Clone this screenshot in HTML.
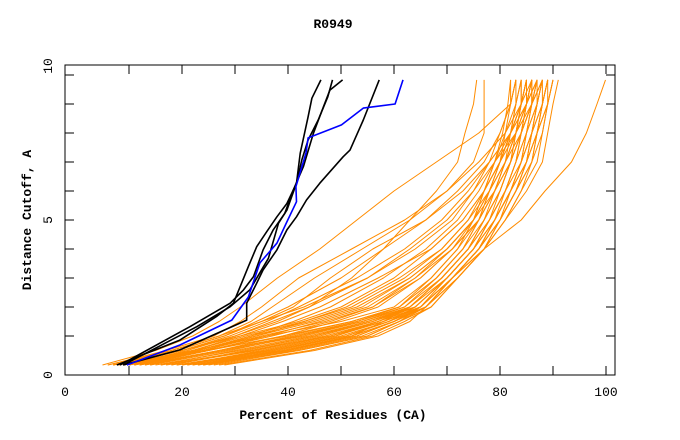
<!DOCTYPE html>
<html><head><meta charset="utf-8"><style>
html,body{margin:0;padding:0;background:#fff;}
svg{display:block;font-family:"Liberation Mono","DejaVu Sans Mono",monospace;}
</style></head><body>
<svg id="chart" width="680" height="440" viewBox="0 0 680 440" xmlns="http://www.w3.org/2000/svg">
<text x="333" y="28" text-anchor="middle" font-size="13" font-weight="bold">R0949</text>
<text x="333" y="419" text-anchor="middle" font-size="13" font-weight="bold">Percent of Residues (CA)</text>
<text transform="translate(31,220) rotate(-90)" text-anchor="middle" font-size="13" font-weight="bold">Distance Cutoff, A</text>
<g id="series"></g>
<g id="axes"></g>
<rect x="65" y="65" width="550" height="310" fill="none" stroke="#000" stroke-width="1"/>
</svg>
<script>
const levels = [0,0.5,1,1.5,2,3,4,5,6,7,8,9,9.83];
const xTicks = [0,20,40,60,80,100];
const yTicks = [0,5,10];
const orangeLines = [
[5,15,22,27,31,38,46,53,60,68,76,82,83],
[7,20,30,38,44,52,58,63,68,72,73.4,75,75.6],
[6,18,27,33,37,45,54,63,70,75,77,77,77],
[8,19,28,34,40,50,58,66,72,77,80,82,83],
[6,17,26,31,35,42,52,62,70,76,81,84,85],
[9,21,30,37,44,55,63,70,75,79,81,83,84],
[7,20,29,36,42,53,62,69,74,78,82,84,85],
[10,23,33,41,48,58,66,72,76,79,82,84,86],
[8,22,31,39,46,57,67,73,77,80,82,84,84],
[11,24,34,43,51,61,69,74,78,81,83,85,86],
[9,23,33,44,53,63,70,75,78,80,82,85,87],
[12,25,36,46,55,64,71,76,79,81,84,86,88],
[7,19,28,35,41,48,56,66,73,78,82,85,86],
[10,24,35,47,56,65,71,75,77,79,83,86,87],
[10,22,36,50,60,67,72,75,77,79,80.5,81.5,82],
[12,25,39,52,61,68,73,76,78,80,81,82,83],
[14,27,41,53,62,68,73,76,79,81,82,83,84],
[13,28,43,54,62,69,74,77,79,81,83,84,84],
[16,30,44,55,63,69,74,77,80,82,83,84,85],
[15,31,45,56,63,70,75,78,80,82,84,85,85],
[18,33,46,56,64,70,75,78,81,83,84,85,86],
[17,34,47,57,64,70,75,79,81,83,85,86,86],
[20,35,48,58,65,71,76,79,82,84,85,86,87],
[19,36,49,58,65,71,76,79,82,84,86,87,87],
[21,37,50,59,65,71,76,80,82,85,86,87,88],
[22,38,51,59,66,71,76,80,83,85,86,88,88],
[23,39,52,60,66,71,77,80,83,85,87,88,89],
[24,40,53,60,66,72,77,80,83,86,87,88,89],
[25,41,54,61,66,72,77,81,84,86,88,89,90],
[26,42,55,61,67,72,77,81,84,87,88,89,90],
[27,44,56,62,67,72,77,81,85,88,89,90,91],
[11,24,40,52,61,67,72,76,78,80,82,83,83],
[14,29,42,54,63,69,74,77,80,82,83,84,85],
[18,32,45,55,64,70,75,78,81,83,84,86,86],
[21,36,49,57,65,71,76,79,82,84,85,87,88],
[23,40,52,60,66,71,76,80,83,86,87,89,90],
[8,20,31,42,50,60,67,73,77,80,83,85,86],
[9,22,32,43,52,62,69,74,77,80,82,84,85],
[11,25,37,48,56,64,70,75,78,81,83,85,87],
[13,27,39,49,57,65,71,76,79,82,84,86,87],
[10,23,34,45,54,63,70,75,79,82,84,86,88],
[7,18,27,35,43,55,64,71,75,78,80,82,82],
[16,33,48,57,63,69,74,78,81,84,86,87,88],
[19,37,51,59,64,70,75,79,82,84,86,88,89],
[22,40,53,60,65,70,75,79,82,85,87,89,89],
[24,42,55,61,65,71,76,80,83,85,87,88,89],
[20,39,52,58,63,69,74,78,81,83,85,87,88],
[12,27,42,53,61,68,73,77,80,82,84,85,86],
[28,45,57,63,66,71,77,84,88.5,93.5,96.3,98.3,99.9]
];
const blackX1 = [7.7,19.6,26.5,29.7,32.5,34.1,36.0,37.9,39.8,41.6,42.3,43.8,44.5,46.2];
const blackY1 = [0,0.86,1.67,2.13,3.39,4.08,4.6,5.11,5.57,6.27,7.3,8.56,9.2,9.83];
const blackX2 = [8.9,22.8,29.1,32.8,36.3,38.2,39.8,41.6,42.6,43.8,45.7,47.5,48.4];
const blackY2 = [0,1.32,2.01,2.59,3.68,4.89,5.34,6.27,7.07,7.76,8.45,9.25,9.83];
const blackX3 = [8.3,21.5,29.1,31.6,33.5,35.3,37.2,39.4,41.0,42.9,44.8,46.7,47.9,50.3];
const blackY3 = [0,1.32,2.13,2.59,3.05,3.97,4.66,5.23,6.03,6.84,7.99,8.91,9.48,9.83];
const blackX4 = [8.9,19.6,32.2,32.2,34.1,35.3,37.9,39.8,41.6,43.5,46.0,50.4,51.7,54.2,57.2];
const blackY4 = [0,0.52,1.55,2.13,2.82,3.28,3.97,4.66,5.11,5.69,6.27,7.18,7.41,8.45,9.83];
const blueX = [9.6,19.6,29.4,32.5,34.7,37.9,39.7,41.6,41.5,43.4,43.8,50.1,54.2,60.2,61.7];
const blueY = [0,0.69,1.55,2.34,3.52,4.2,4.9,5.63,6.15,7.31,7.83,8.28,8.86,9.0,9.83];

const NS = "http://www.w3.org/2000/svg";
function sx(v){ return 76 + v*5.3; }
function sy(v){ return 365 - v*29; }
const series = document.getElementById('series');
const axes = document.getElementById('axes');
function poly(xs, ys, color, w, name){
  const p = document.createElementNS(NS,'polyline');
  p.setAttribute('points', xs.map((x,i)=>sx(x).toFixed(1)+','+sy(ys[i]).toFixed(1)).join(' '));
  p.setAttribute('fill','none');
  p.setAttribute('stroke',color);
  p.setAttribute('stroke-width',w);
  p.setAttribute('stroke-linejoin','round');
  
  
  series.appendChild(p);
}
orangeLines.forEach((xs,i)=>poly(xs, levels, '#ff8c00', 1, 'orange-model-line'));
poly(blackX1, blackY1, '#000', 1.6, 'black-model-line-1');
poly(blackX2, blackY2, '#000', 1.6, 'black-model-line-2');
poly(blackX3, blackY3, '#000', 1.6, 'black-model-line-3');
poly(blackX4, blackY4, '#000', 1.6, 'black-model-line-4');
poly(blueX, blueY, '#0000ff', 1.6, 'blue-model-line');

function line(x1,y1,x2,y2,name){
  const l = document.createElementNS(NS,'line');
  l.setAttribute('x1',x1); l.setAttribute('y1',y1);
  l.setAttribute('x2',x2); l.setAttribute('y2',y2);
  l.setAttribute('stroke','#000'); l.setAttribute('stroke-width','1');
  
  
  axes.appendChild(l);
}
function label(x,y,t,anchor,name){
  const e = document.createElementNS(NS,'text');
  e.setAttribute('x',x); e.setAttribute('y',y);
  e.setAttribute('text-anchor',anchor);
  e.setAttribute('font-size','13');
  e.textContent = t;
  
  
  axes.appendChild(e);
}
for(let v=10; v<=100; v+=10){
  const x = sx(v);
  line(x,375,x,366,'x-tick');
  line(x,65,x,74,'x-tick-top');
}
xTicks.forEach(v=>{
  const x = v===0 ? 65 : sx(v);
  label(x, 396, String(v), 'middle', 'x-tick-label');
});
for(let v=1; v<=10; v++){
  const y = sy(v);
  line(65,y,74,y,'y-tick');
  line(615,y,606,y,'y-tick-right');
}
yTicks.forEach(v=>{
  const y = v===0 ? 375 : (v===10 ? 66 : sy(v));
  const t = document.createElementNS(NS,'text');
  t.setAttribute('transform','translate(52,'+y+') rotate(-90)');
  t.setAttribute('text-anchor','middle');
  t.setAttribute('font-size','13');
  t.textContent = String(v);
  
  
  axes.appendChild(t);
});
</script>
</body></html>
